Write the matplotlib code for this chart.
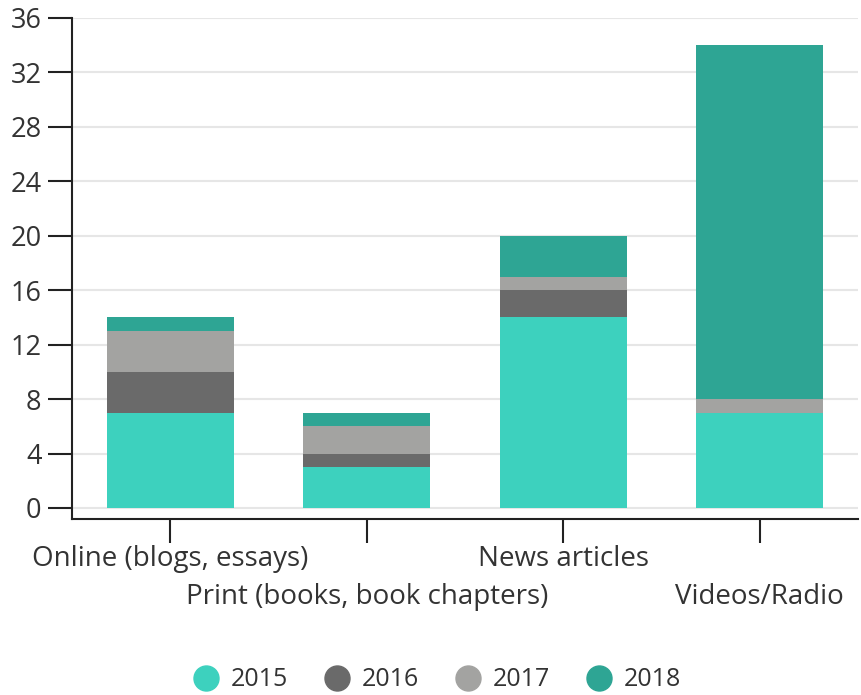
import numpy as np
import matplotlib.pyplot as plt

plt.rcParams['font.family'] = ['Open Sans', 'DejaVu Sans']

categories = ['Online (blogs, essays)', 'Print (books, book chapters)', 'News articles', 'Videos/Radio']
years = ['2015', '2016', '2017', '2018']
v2015 = [7, 3, 14, 7]
v2016 = [3, 1, 2, 0]
v2017 = [3, 2, 1, 1]
v2018 = [1, 1, 3, 26]
colors = ['#3dd1be', '#6a6a6a', '#a3a3a1', '#2ea594']

series = [v2015, v2016, v2017, v2018]
x = np.arange(len(categories))

fig = plt.figure(figsize=(8.62, 6.95), dpi=100)
ax = fig.add_axes([72 / 862, 1 - 519 / 695, 786 / 862, 501 / 695])

bottom = np.zeros(len(categories))
for name, vals, c in zip(years, series, colors):
    ax.bar(x, vals, 0.646, bottom=bottom, color=c, label=name, zorder=2)
    bottom += np.array(vals)

ax.set_xlim(-0.5, 3.5)
ax.set_ylim(-0.81, 36)
ax.set_yticks(np.arange(0, 37, 4))
ax.grid(axis='y', color='#e6e6e6', linewidth=1.5, zorder=0)
for s in ['top', 'right']:
    ax.spines[s].set_visible(False)
for s in ['left', 'bottom']:
    ax.spines[s].set_linewidth(1.5)
    ax.spines[s].set_color('#222222')
ax.tick_params(axis='y', length=17, width=1.5, color='#222222', labelsize=19.5, labelcolor='#333333', pad=5)
ax.tick_params(axis='x', length=17, width=1.5, color='#222222', labelsize=20, labelcolor='#333333', pad=2)

ax.set_xticks(x)
labels = ax.set_xticklabels(categories)
for i, lab in enumerate(labels):
    if i % 2 == 1:
        lab.set_y(-0.076)

handles = [plt.Line2D([], [], marker='o', linestyle='', markersize=18, color=c) for c in colors]
fig.legend(handles, years, loc='center', bbox_to_anchor=(0.5, 1 - 680 / 695), ncol=4,
           frameon=False, fontsize=18, labelcolor='#333333', handletextpad=0.0,
           columnspacing=0.95)

fig.savefig('out.png', dpi=100)
